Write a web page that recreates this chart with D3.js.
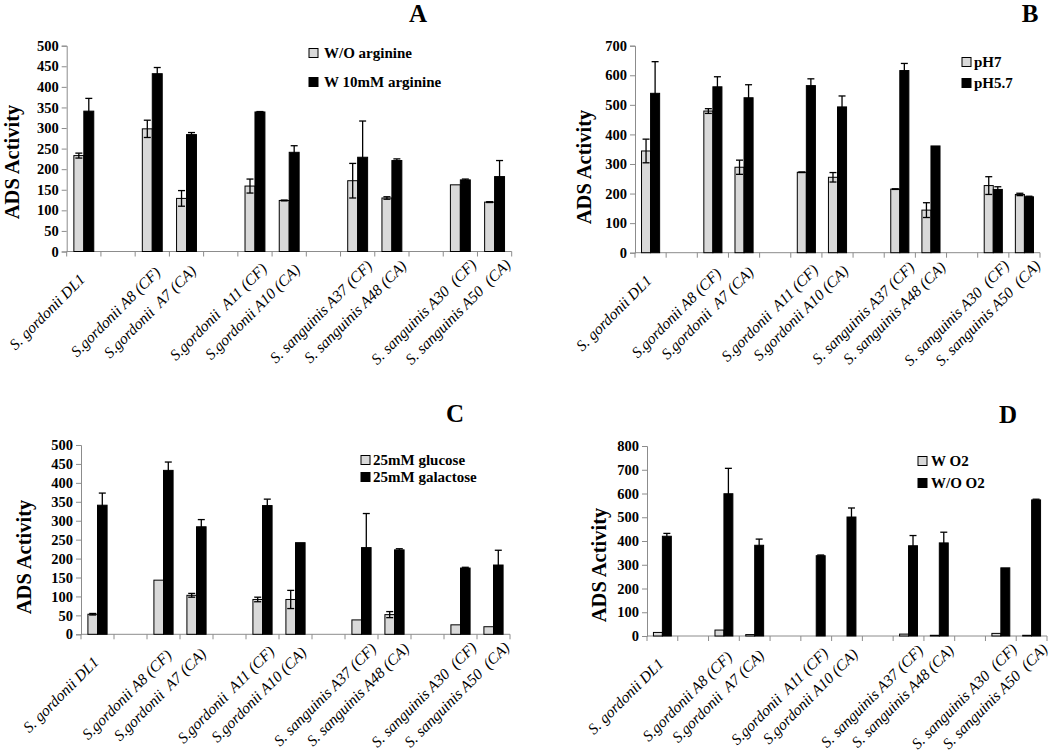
<!DOCTYPE html>
<html><head><meta charset="utf-8">
<script src="https://cdn.jsdelivr.net/npm/d3@7/dist/d3.min.js"></script>
<style>
body{margin:0;background:#fff;}
svg{display:block;font-family:"Liberation Serif","Times New Roman",serif;}
</style></head>
<body>
<svg id="chart" width="1050" height="751"></svg>
<script>
// ---------- data ----------
const categories = ["S. gordonii DL1", "", "S.gordonii A8 (CF)", "S.gordonii  A7 (CA)", "",
  "S.gordonii  A11 (CF)", "S.gordonii A10 (CA)", "", "S. sanguinis A37 (CF)", "S. sanguinis A48 (CA)", "",
  "S. sanguinis A30  (CF)", "S. sanguinis A50  (CA)"];

// Panel A: arginine
const seriesA = ["W/O arginine", "W 10mM arginine"];
const aLight    = [233, null, 298, 129, null, 159, 124, null, 172, 130, null, 162, 120];
const aLightErr = [6,   null, 21,  19,  null, 17,  1,   null, 42,  3,   null, 0,   1];
const aDark     = [341, null, 432, 284, null, 339, 241, null, 229, 221, null, 174, 182];
const aDarkErr  = [31,  null, 15,  5,   null, 1,   16,  null, 88,  4,   null, 2,   39];
const ticksA = [0, 50, 100, 150, 200, 250, 300, 350, 400, 450, 500];

// Panel B: pH
const seriesB = ["pH7", "pH5.7"];
const bLight    = [344, null, 479, 289, null, 272, 255, null, 215, 144, null, 227, 197];
const bLightErr = [40,  null, 8,   24,  null, 1,   16,  null, 1,   25,  null, 30,  4];
const bDark     = [539, null, 561, 524, null, 565, 493, null, 616, 361, null, 214, 189];
const bDarkErr  = [107, null, 34,  44,  null, 23,  37,  null, 24,  0,   null, 9,   2];
const ticksB = [0, 100, 200, 300, 400, 500, 600, 700];

// Panel C: sugars
const seriesC = ["25mM glucose", "25mM galactose"];
const cLight    = [53,  null, 143, 103, null, 92,  92,  null, 38,  52,  null, 25,  20];
const cLightErr = [2,   null, 0,   5,   null, 6,   24,  null, 0,   8,   null, 0,   0];
const cDark     = [341, null, 433, 284, null, 340, 242, null, 229, 223, null, 175, 183];
const cDarkErr  = [32,  null, 22,  19,  null, 17,  0,   null, 90,  3,   null, 2,   39];
const ticksC = [0, 50, 100, 150, 200, 250, 300, 350, 400, 450, 500];

// Panel D: oxygen
const seriesD = ["W O2", "W/O O2"];
const dLight    = [15,  null, 25,  6,   null, 0,   0,   null, 8,   3,   null, 11,  3];
const dLightErr = [0,   null, 0,   0,   null, 0,   0,   null, 0,   0,   null, 0,   0];
const dDark     = [420, null, 599, 382, null, 338, 501, null, 380, 392, null, 287, 573];
const dDarkErr  = [12,  null, 107, 26,  null, 3,   38,  null, 43,  45,  null, 0,   3];
const ticksD = [0, 100, 200, 300, 400, 500, 600, 700, 800];

// ---------- layout ----------
const panels = [
  {letter:"A", series:seriesA, light:aLight, lightErr:aLightErr, dark:aDark, darkErr:aDarkErr, ticks:ticksA,
   x0:66.7, x1:511.7, yTop:45.7, yBot:251.5,
   title:[418,22], yTitle:[19,162], legend:{sx:309, tx:324, rows:[53,82]}},
  {letter:"B", series:seriesB, light:bLight, lightErr:bLightErr, dark:bDark, darkErr:bDarkErr, ticks:ticksB,
   x0:635, x1:1040, yTop:45.7, yBot:252.7,
   title:[1030,22], yTitle:[591,167], legend:{sx:962, tx:974, rows:[62,83]}},
  {letter:"C", series:seriesC, light:cLight, lightErr:cLightErr, dark:cDark, darkErr:cDarkErr, ticks:ticksC,
   x0:81, x1:510, yTop:445, yBot:634.3,
   title:[455,422], yTitle:[31,557], legend:{sx:361, tx:373, rows:[460,477]}},
  {letter:"D", series:seriesD, light:dLight, lightErr:dLightErr, dark:dDark, darkErr:dDarkErr, ticks:ticksD,
   x0:647, x1:1047, yTop:446, yBot:636,
   title:[1008,423], yTitle:[606,565], legend:{sx:918, tx:931, rows:[461,483]}}
];

const svg = d3.select("#chart");
const AXIS = "#8c8c8c";
const LIGHT = "#d9d9d9";

panels.forEach(p => {
  const g = svg.append("g");
  const x = d3.scaleBand().domain(d3.range(categories.length)).range([p.x0, p.x1]).padding(0);
  const xs = d3.scaleBand().domain([0, 1]).range([0, x.bandwidth()]).paddingInner(0).paddingOuter(0.72);
  const y = d3.scaleLinear().domain([0, d3.max(p.ticks)]).range([p.yBot, p.yTop]);

  // y axis
  const yAxis = d3.axisLeft(y).tickValues(p.ticks).tickSize(5).tickPadding(3).tickFormat(d3.format("d"));
  const ya = g.append("g").attr("transform", `translate(${p.x0},0)`).call(yAxis);
  ya.select(".domain").attr("stroke", AXIS);
  ya.selectAll(".tick line").attr("stroke", AXIS);
  ya.selectAll(".tick text").attr("font-family", "Liberation Serif").attr("font-weight", "bold")
    .attr("font-size", 14.5).attr("fill", "#000");

  // x axis: line + ticks at slot boundaries
  g.append("line").attr("x1", p.x0).attr("x2", p.x1).attr("y1", p.yBot).attr("y2", p.yBot).attr("stroke", AXIS);
  const bounds = d3.range(categories.length + 1).map(i => i === categories.length ? p.x1 : x(i));
  g.selectAll(".xt").data(bounds).join("line").attr("class", "xt")
    .attr("x1", d => d).attr("x2", d => d).attr("y1", p.yBot).attr("y2", p.yBot + 5).attr("stroke", AXIS);

  // bars
  const rows = categories.map((c, i) => ({i, vals:[p.light[i], p.dark[i]], errs:[p.lightErr[i], p.darkErr[i]]}))
    .filter(r => r.vals[0] !== null);
  rows.forEach(r => {
    [0, 1].forEach(s => {
      const v = r.vals[s];
      if (!v) return;
      const bx = x(r.i) + xs(s);
      g.append("rect").attr("x", bx).attr("width", xs.bandwidth())
        .attr("y", y(v)).attr("height", y(0) - y(v))
        .attr("fill", s === 0 ? LIGHT : "#000").attr("stroke", "#000").attr("stroke-width", 1);
    });
    [0, 1].forEach(s => {
      const v = r.vals[s], e = r.errs[s];
      if (!v || !e) return;
      const cx = x(r.i) + xs(s) + xs.bandwidth() / 2;
      const eg = g.append("g").attr("stroke", "#000").attr("stroke-width", 1.3);
      eg.append("line").attr("x1", cx).attr("x2", cx).attr("y1", y(v - e)).attr("y2", y(v + e));
      [v - e, v + e].forEach(t => eg.append("line").attr("x1", cx - 3.5).attr("x2", cx + 3.5).attr("y1", y(t)).attr("y2", y(t)));
    });
  });

  // x labels (centered, rotated 45°)
  categories.forEach((c, i) => {
    if (!c) return;
    const cx = x(i) + x.bandwidth() / 2;
    g.append("text").text(c)
      .attr("transform", `translate(${cx - 33},${p.yBot + 64}) rotate(-45)`)
      .attr("text-anchor", "middle").attr("font-style", "italic").attr("font-size", 15.5)
      .style("white-space", "pre").attr("fill", "#000");
  });

  // y title
  g.append("text").text("ADS Activity")
    .attr("transform", `translate(${p.yTitle[0]},${p.yTitle[1]}) rotate(-90)`)
    .attr("text-anchor", "middle").attr("font-weight", "bold").attr("font-size", 20.5).attr("fill", "#000");

  // panel letter
  g.append("text").text(p.letter).attr("x", p.title[0]).attr("y", p.title[1])
    .attr("text-anchor", "middle").attr("font-weight", "bold").attr("font-size", 25).attr("fill", "#000");

  // legend
  p.series.forEach((s, k) => {
    const ry = p.legend.rows[k];
    g.append("rect").attr("x", p.legend.sx).attr("y", ry - 4.5).attr("width", 9).attr("height", 9)
      .attr("fill", k === 0 ? LIGHT : "#000").attr("stroke", "#000").attr("stroke-width", 1);
    g.append("text").text(s).attr("x", p.legend.tx).attr("y", ry).attr("dy", "0.35em")
      .attr("font-weight", "bold").attr("font-size", 15).attr("fill", "#000");
  });
});
</script>
</body></html>
